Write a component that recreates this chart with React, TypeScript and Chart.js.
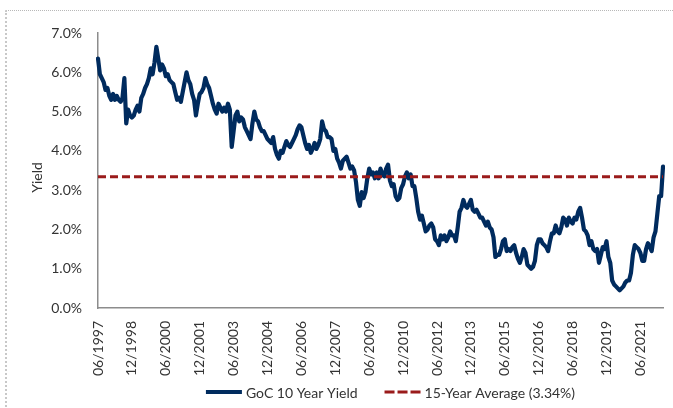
import React, { useEffect, useRef } from "react";
import { Chart, registerables } from "chart.js";

Chart.register(...registerables);

// Monthly GoC 10 Year Yield (%), June 1997 – June 2022
const START_YEAR = 1997;
const START_MONTH = 6;
const y1997 = [6.35, 5.95, 5.85, 5.75, 5.55, 5.6, 5.4];
const y1998 = [5.3, 5.45, 5.3, 5.4, 5.3, 5.25, 5.35, 5.85, 4.7, 5.05, 4.9, 4.85];
const y1999 = [4.9, 5.05, 5.15, 5.0, 5.35, 5.45, 5.6, 5.7, 5.85, 6.1, 5.95, 6.25];
const y2000 = [6.65, 6.35, 6.05, 6.2, 6.1, 5.9, 5.95, 5.8, 5.75, 5.7, 5.5, 5.3];
const y2001 = [5.35, 5.25, 5.5, 5.75, 6.0, 5.8, 5.7, 5.45, 5.3, 4.9, 5.2, 5.45];
const y2002 = [5.5, 5.6, 5.85, 5.7, 5.6, 5.4, 5.2, 5.05, 4.95, 5.2, 5.1, 5.0];
const y2003 = [5.1, 5.0, 5.2, 5.05, 4.1, 4.5, 4.9, 5.0, 4.75, 4.85, 4.8, 4.6];
const y2004 = [4.5, 4.4, 4.3, 4.7, 5.0, 4.8, 4.75, 4.6, 4.5, 4.5, 4.4, 4.3];
const y2005 = [4.25, 4.2, 4.35, 4.05, 3.9, 3.8, 4.0, 3.95, 4.1, 4.25, 4.15, 4.1];
const y2006 = [4.2, 4.3, 4.4, 4.55, 4.65, 4.6, 4.4, 4.2, 4.05, 4.15, 3.95, 4.05];
const y2007 = [4.2, 4.05, 4.15, 4.3, 4.75, 4.55, 4.5, 4.35, 4.35, 4.3, 4.0, 4.05];
const y2008 = [3.8, 3.7, 3.55, 3.75, 3.8, 3.85, 3.7, 3.55, 3.6, 3.5, 3.2, 2.75];
const y2009 = [2.6, 2.95, 2.8, 2.95, 3.3, 3.55, 3.4, 3.45, 3.3, 3.45, 3.3, 3.55];
const y2010 = [3.4, 3.35, 3.55, 3.65, 3.25, 3.1, 3.15, 2.85, 2.75, 2.8, 3.05, 3.15];
const y2011 = [3.35, 3.45, 3.3, 3.4, 3.1, 3.1, 2.8, 2.45, 2.25, 2.35, 2.15, 1.95];
const y2012 = [2.0, 2.1, 2.15, 2.05, 1.75, 1.7, 1.6, 1.85, 1.75, 1.85, 1.7, 1.8];
const y2013 = [1.95, 1.85, 1.85, 1.7, 2.05, 2.45, 2.55, 2.75, 2.6, 2.55, 2.65, 2.75];
const y2014 = [2.5, 2.45, 2.5, 2.4, 2.3, 2.3, 2.2, 2.1, 2.2, 2.05, 2.0, 1.8];
const y2015 = [1.3, 1.35, 1.35, 1.5, 1.7, 1.75, 1.45, 1.5, 1.45, 1.55, 1.6, 1.4];
const y2016 = [1.25, 1.15, 1.3, 1.5, 1.4, 1.1, 1.05, 1.0, 1.05, 1.2, 1.6, 1.75];
const y2017 = [1.75, 1.65, 1.6, 1.55, 1.45, 1.7, 1.9, 1.9, 2.1, 1.95, 1.9, 2.05];
const y2018 = [2.3, 2.25, 2.1, 2.3, 2.2, 2.15, 2.3, 2.25, 2.45, 2.55, 2.3, 2.0];
const y2019 = [1.95, 1.85, 1.6, 1.7, 1.5, 1.45, 1.5, 1.15, 1.35, 1.55, 1.5, 1.7];
const y2020 = [1.3, 1.15, 0.7, 0.6, 0.55, 0.5, 0.45, 0.5, 0.55, 0.65, 0.7, 0.7];
const y2021 = [0.9, 1.35, 1.6, 1.55, 1.5, 1.4, 1.2, 1.2, 1.5, 1.65, 1.55, 1.45];
const y2022 = [1.8, 1.95, 2.4, 2.85, 2.85, 3.6];

const yieldSeries = [
  ...y1997, ...y1998, ...y1999, ...y2000, ...y2001, ...y2002, ...y2003,
  ...y2004, ...y2005, ...y2006, ...y2007, ...y2008, ...y2009, ...y2010,
  ...y2011, ...y2012, ...y2013, ...y2014, ...y2015, ...y2016, ...y2017,
  ...y2018, ...y2019, ...y2020, ...y2021, ...y2022,
];

const AVERAGE_15Y = 3.34;

const categories = yieldSeries.map((_, i) => {
  const t = START_MONTH - 1 + i;
  const m = (t % 12) + 1;
  const yr = START_YEAR + Math.floor(t / 12);
  return `${String(m).padStart(2, "0")}/${yr}`;
});

const tickLabels = [
  "06/1997", "12/1998", "06/2000", "12/2001", "06/2003", "12/2004",
  "06/2006", "12/2007", "06/2009", "12/2010", "06/2012", "12/2013",
  "06/2015", "12/2016", "06/2018", "12/2019", "06/2021",
];

const seriesNames = ["GoC 10 Year Yield", "15-Year Average (3.34%)"];
const seriesColors = ["#002B5E", "#9A1B1B"];
const yAxisTitle = "Yield";

const FONT = "Lato";
const TEXT = "#333333";

// Draws the y-axis title and an Excel-like legend (line swatches, dashed for the average)
const decorPlugin = {
  id: "decor",
  afterDraw(chart: any) {
    const { ctx, chartArea } = chart;
    ctx.save();
    ctx.fillStyle = TEXT;
    ctx.font = `14px ${FONT}`;
    // y-axis title
    ctx.save();
    ctx.translate(chartArea.left - 60.5, (chartArea.top + chartArea.bottom) / 2 + 7);
    ctx.rotate(-Math.PI / 2);
    ctx.textAlign = "center";
    ctx.textBaseline = "middle";
    ctx.fillText(yAxisTitle, 0, 0);
    ctx.restore();

    // legend
    const sw = 36;
    const swGap = 4;
    const itemGap = 27;
    const datasets = chart.data.datasets;
    const widths = datasets.map((d: any) => ctx.measureText(d.label).width);
    const total =
      widths.reduce((a: number, b: number) => a + b, 0) +
      datasets.length * (sw + swGap) +
      itemGap * (datasets.length - 1);
    let x = (chartArea.left + chartArea.right) / 2 + 10 - total / 2;
    const y = chart.height - 16;
    ctx.textAlign = "left";
    ctx.textBaseline = "middle";
    datasets.forEach((d: any, i: number) => {
      ctx.save();
      ctx.strokeStyle = d.borderColor;
      ctx.lineWidth = d.borderWidth;
      ctx.setLineDash(d.borderDash ? [10, 3] : []);
      ctx.beginPath();
      ctx.moveTo(x, y);
      ctx.lineTo(x + sw, y);
      ctx.stroke();
      ctx.restore();
      x += sw + swGap;
      ctx.fillText(d.label, x, y + 1);
      x += widths[i] + itemGap;
    });
    ctx.restore();
  },
};

export default function App() {
  const ref = useRef<HTMLCanvasElement | null>(null);

  useEffect(() => {
    if (!ref.current) return;
    const chart = new Chart(ref.current, {
      type: "line",
      data: {
        labels: categories,
        datasets: [
          {
            label: seriesNames[0],
            data: yieldSeries,
            borderColor: seriesColors[0],
            backgroundColor: seriesColors[0],
            borderWidth: 4.2,
            pointRadius: 0,
            tension: 0,
            borderJoinStyle: "round",
            borderCapStyle: "round",
            order: 1,
          },
          {
            label: seriesNames[1],
            data: categories.map(() => AVERAGE_15Y),
            borderColor: seriesColors[1],
            backgroundColor: seriesColors[1],
            borderWidth: 3,
            borderDash: [8, 4],
            pointRadius: 0,
            order: 0,
          },
        ],
      },
      options: {
        responsive: false,
        animation: false,
        layout: { padding: { left: 20, top: 33, right: 10, bottom: 24 } },
        plugins: {
          tooltip: { enabled: false },
          legend: { display: false },
        },
        scales: {
          x: {
            type: "category",
            offset: false,
            grid: { display: false, drawTicks: false },
            border: { display: true, color: "#8c8c8c", width: 1.5 },
            ticks: {
              autoSkip: false,
              minRotation: 90,
              maxRotation: 90,
              padding: 13,
              color: TEXT,
              font: { family: FONT, size: 14 },
              callback: (_v: any, i: number) =>
                tickLabels.includes(categories[i]) ? categories[i] : null,
            },
            afterFit: (s: any) => {
              s.height = 76;
            },
          },
          y: {
            min: 0,
            max: 7,
            grid: { display: false, drawTicks: false },
            border: { display: true, color: "#8c8c8c", width: 1.5 },
            ticks: {
              stepSize: 1,
              padding: 16,
              color: TEXT,
              font: { family: FONT, size: 14 },
              callback: (v: any) => Number(v).toFixed(1) + "%",
            },
            afterFit: (s: any) => {
              s.width = 78;
            },
          },
        },
      },
      plugins: [decorPlugin],
    });
    return () => chart.destroy();
  }, []);

  return (
    <div
      style={{
        position: "absolute",
        left: 0,
        top: 0,
        width: 673,
        height: 408,
        background: "#fff",
        overflow: "hidden",
      }}
    >
      <div
        style={{
          position: "absolute",
          left: 5,
          top: 10,
          width: 700,
          height: 420,
          borderTop: "1px dotted #b8b8b8",
          borderLeft: "2px dotted #c8c8c8",
        }}
      />
      <canvas
        ref={ref}
        width={673}
        height={408}
        style={{ position: "absolute", left: 0, top: 0 }}
      />
    </div>
  );
}
